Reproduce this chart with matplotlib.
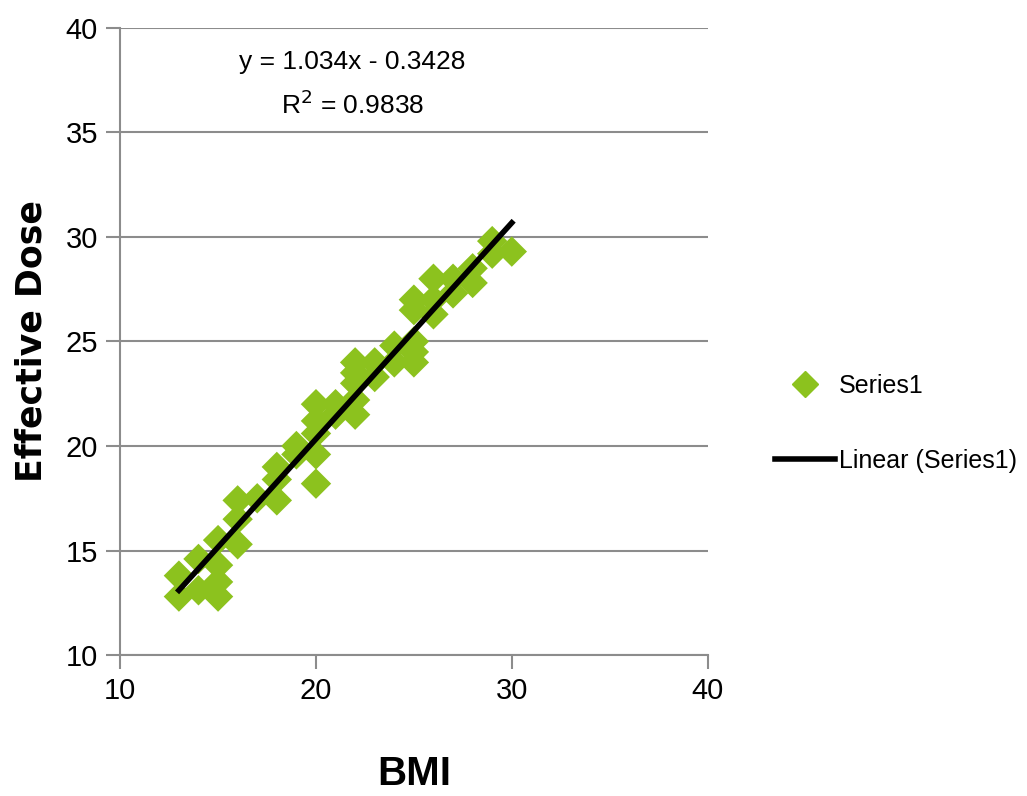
import matplotlib
matplotlib.use("Agg")
import matplotlib.pyplot as plt
from matplotlib.lines import Line2D
import numpy as np

# BMI vs effective dose
bmi = [13, 13, 14, 14, 15, 15, 15, 15, 16, 16, 16, 17, 18, 18, 18, 19, 19,
       20, 20, 20, 20, 20, 21, 21, 22, 22, 22, 22, 22, 23, 23, 24, 24,
       25, 25, 25, 25, 25, 26, 26, 26, 27, 27, 28, 28, 29, 29, 30]
dose = [12.8, 13.8, 14.6, 13.1, 15.5, 14.3, 13.5, 12.8, 17.4, 16.5, 15.3, 17.5, 19.0, 18.4, 17.4, 20.0, 19.6,
        22.0, 21.2, 20.6, 19.6, 18.2, 22.0, 21.5, 24.0, 23.5, 23.0, 22.2, 21.5, 24.0, 23.3, 24.8, 24.0,
        27.0, 26.5, 25.0, 24.5, 24.0, 28.0, 27.0, 26.3, 28.0, 27.3, 28.5, 27.8, 29.8, 29.2, 29.3]

slope = 1.034
intercept = -0.3428
r2 = 0.9838

FONT = "Liberation Sans"
GREEN = "#8cc21e"

fig = plt.figure(figsize=(10.27, 7.96), dpi=100)
ax = fig.add_axes([0.117, 0.177, 0.572, 0.788])

ax.scatter(bmi, dose, marker="D", s=240, color=GREEN, edgecolors="none", zorder=3)
xfit = np.array([min(bmi), max(bmi)])
ax.plot(xfit, slope * xfit + intercept, color="black", lw=4, zorder=4)

ax.set_xlim(10, 40)
ax.set_ylim(10, 40)
ax.set_xticks([10, 20, 30, 40])
ax.set_yticks([10, 15, 20, 25, 30, 35, 40])
ax.yaxis.grid(True, color="#8c8c8c", lw=1.5)
ax.set_axisbelow(True)
for s in ["top", "right"]:
    ax.spines[s].set_visible(False)
for s in ["left", "bottom"]:
    ax.spines[s].set_color("#8c8c8c")
    ax.spines[s].set_linewidth(1.5)
ax.tick_params(axis="both", length=10, width=1.5, color="#8c8c8c", labelsize=21, pad=6)
for lab in ax.get_xticklabels() + ax.get_yticklabels():
    lab.set_family(FONT)

ax.set_xlabel("BMI", fontsize=29, family=FONT, fontweight="bold", labelpad=36)
ax.set_ylabel("Effective Dose", fontsize=25, family="DejaVu Sans", fontweight="bold", labelpad=12)

ax.text(0.395, 0.945, f"y = {slope}x - {abs(intercept)}", transform=ax.transAxes,
        ha="center", va="center", fontsize=19, family=FONT)
ax.text(0.395, 0.878, f"R$^2$ = {r2}", transform=ax.transAxes, ha="center", va="center",
        fontsize=19, family=FONT)

handles = [Line2D([], [], marker="D", color=GREEN, ls="none", markersize=13),
           Line2D([], [], color="black", lw=4)]
fig.legend(handles, ["Series1", "Linear (Series1)"], loc="center left",
           bbox_to_anchor=(0.733, 0.468), frameon=False, handlelength=2.4,
           handletextpad=0.15, labelspacing=2.05, prop={"family": FONT, "size": 18})

fig.savefig("out.png", dpi=100)
